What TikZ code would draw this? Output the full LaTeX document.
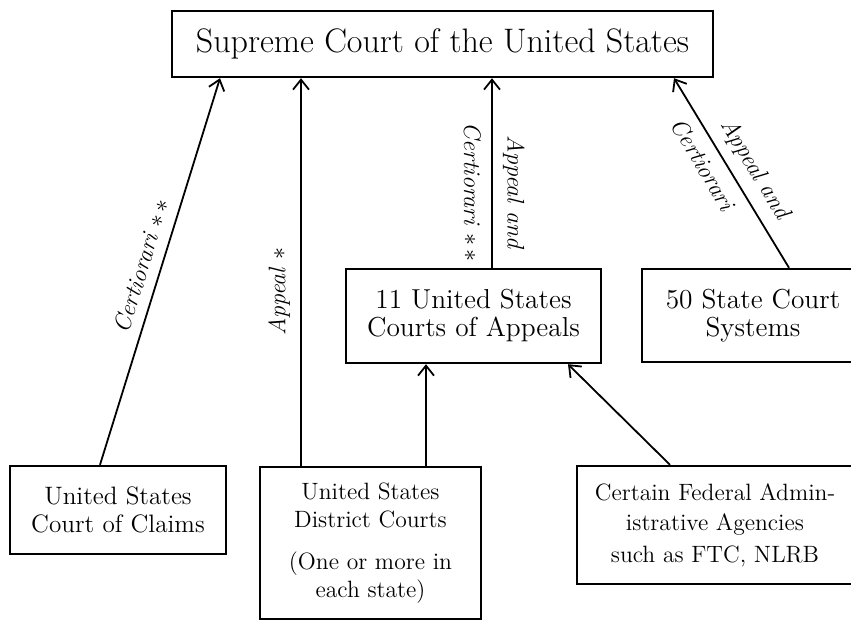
\documentclass[tikz,border=0pt]{standalone}
\usepackage{tikz}
\usetikzlibrary{arrows.meta}
\tikzset{court/.style={draw, line width=1.2pt, align=center, inner sep=0pt, font=\fontsize{11.8}{14}\selectfont}}
\tikzset{route/.style={line width=0.9pt, -{Straight Barb[length=5pt,width=8pt,line width=0.9pt]}}}
\tikzset{lbl/.style={font=\itshape\fontsize{12}{14}\selectfont, inner sep=5pt}}

\begin{document}
\begin{tikzpicture}[x=0.5pt,y=-0.5pt]
\useasboundingbox (0,0) rectangle (851,621);
\clip (0,0) rectangle (851,621);
\node[court, minimum width=270.5pt, minimum height=33pt, font=\fontsize{17}{19}\selectfont] (sup) at (442.5,44) {Supreme Court of the United States};
\node[court, minimum width=108pt, minimum height=44pt, font=\fontsize{12.6}{14}\selectfont] (claims) at (118,510) {United States\\Court of Claims};
\node[court, minimum width=110.5pt, minimum height=76pt] (district) at (370.5,543) {United States\\District Courts\\[7pt](One or more in\\each state)};
\node[court, minimum width=127.5pt, minimum height=47pt, font=\fontsize{13.7}{14}\selectfont] (appeals) at (473.5,316) {11 United States\\Courts of Appeals};
\node[court, minimum width=138pt, minimum height=59pt] (agencies) at (715,525) {Certain Federal Admin-\\[1pt]istrative Agencies\\[2pt]such as FTC, NLRB};
\node[court, minimum width=111pt, minimum height=46.5pt, font=\fontsize{13.7}{14}\selectfont] (states) at (753,315.5) {50 State Court\\Systems};
\draw[route] ([xshift=-9pt]claims.north) -- node[lbl, pos=0.5, rotate=73, anchor=south] {Certiorari $\ast\,\ast$} ([xshift=-111.25pt]sup.south);
\draw[route] ([xshift=-34.75pt]district.north) -- node[lbl, pos=0.45, rotate=90, anchor=south] {Appeal $\ast$} ([xshift=-70.75pt]sup.south);
\draw[route] ([xshift=27.75pt]district.north) -- ([xshift=-23.75pt]appeals.south);
\draw[route] ([xshift=9.25pt]appeals.north) -- node[lbl, pos=0.4, rotate=-90, anchor=south] {Appeal and} node[lbl, pos=0.4, rotate=-90, anchor=north] {Certiorari $\ast\,\ast$} ([xshift=24.75pt]sup.south);
\draw[route] ([xshift=-22.5pt]agencies.north) -- ([xshift=47.25pt]appeals.south);
\draw[route] ([xshift=18pt]states.north) -- node[lbl, pos=0.46, rotate=-59, anchor=south] {Appeal and} node[lbl, pos=0.6, rotate=-59, anchor=north] {Certiorari} ([xshift=115.75pt]sup.south);
\end{tikzpicture}
\end{document}
